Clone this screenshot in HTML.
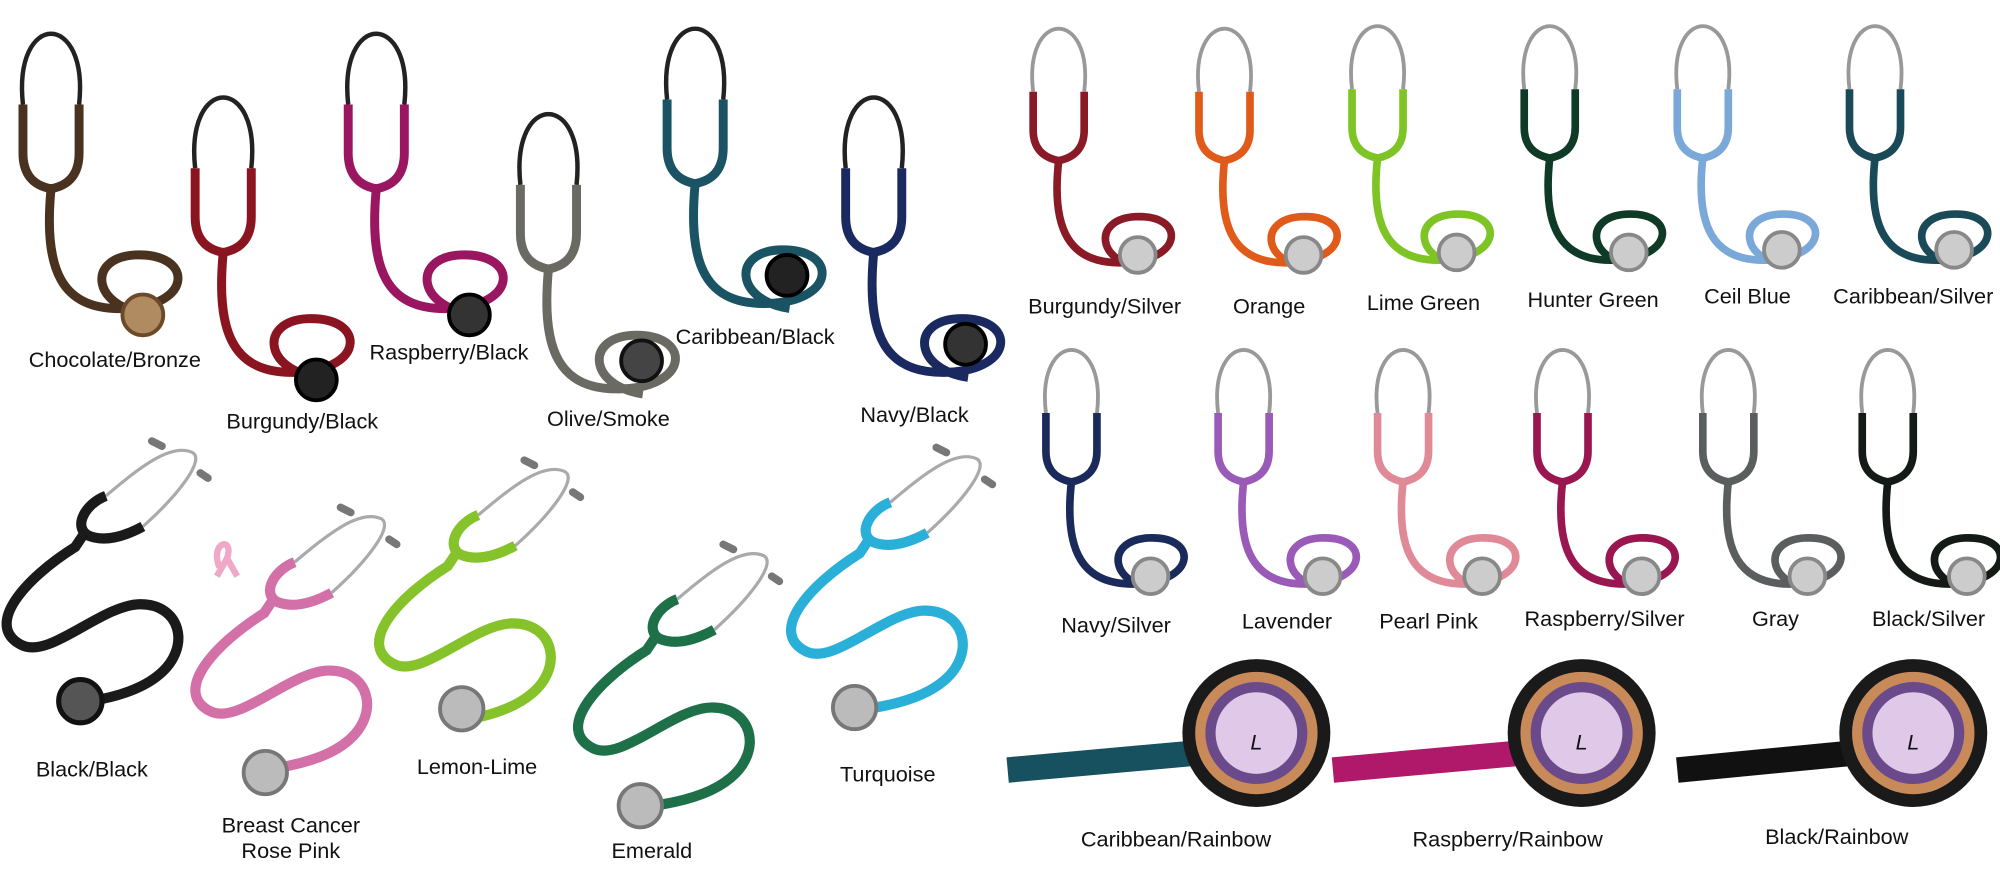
<!DOCTYPE html>
<html><head><meta charset="utf-8"><style>
html,body{margin:0;padding:0;background:#fff;}
svg{display:block;}
text{font-family:"Liberation Sans",Arial,sans-serif;font-size:17px;fill:#111;text-anchor:middle;}
</style></head><body>
<svg width="2000" height="872" viewBox="0 0 1568 684" preserveAspectRatio="none" xmlns="http://www.w3.org/2000/svg">
<defs>
 <g id="up">
  <path d="M-20 62 C-28 -4 28 -4 20 62" fill="none" stroke="#999" stroke-width="3"/>
  <path d="M-20 62 L-20 92 Q-20 112 0 116 Q20 112 20 92 L20 62" fill="none" stroke="currentColor" stroke-width="6"/>
  <path d="M0 116 C-6 170 8 198 52 196 C98 194 100 158 60 160 C26 162 30 196 66 200" fill="none" stroke="currentColor" stroke-width="6"/>
 </g>
 <g id="upL">
  <path d="M-22 70 C-30 -4 30 -4 22 70" fill="none" stroke="#222" stroke-width="3.5"/>
  <path d="M-22 70 L-22 108 Q-22 132 0 136 Q22 132 22 108 L22 70" fill="none" stroke="currentColor" stroke-width="7"/>
  <path d="M0 136 C-6 200 8 232 58 230 C112 228 112 186 66 188 C28 190 32 228 74 234" fill="none" stroke="currentColor" stroke-width="7"/>
 </g>
 <!-- lying stethoscope, origin at Y junction -->
 <g id="ly">
  <path d="M24 -40 C50 -62 75 -82 92 -74 C102 -68 80 -40 53 -16" fill="none" stroke="#aaa" stroke-width="2.5"/>
  <path d="M68 -79 l-8 -4 M98 -58 l6 4" stroke="#777" stroke-width="6" stroke-linecap="round"/>
  <path d="M24 -40 C8 -34 -2 -16 10 -9 C24 -3 40 -9 53 -16" fill="none" stroke="currentColor" stroke-width="8"/>
  <path d="M6 -9 L0 0 C-40 25 -72 62 -42 77 C-20 88 20 46 50 45 C82 44 92 78 66 100 C52 112 30 118 12 121" fill="none" stroke="currentColor" stroke-width="8"/>
 </g>
</defs>

<!-- LEFT TOP ROW -->
<g color="#4a3220"><use href="#upL" x="40" y="12"/><circle cx="112" cy="247" r="16" fill="#b08a60" stroke="#6b4a2a" stroke-width="3"/></g>
<g color="#8a1420"><use href="#upL" x="175" y="62"/><circle cx="248" cy="298" r="16" fill="#222" stroke="#000" stroke-width="3"/></g>
<g color="#9a1660"><use href="#upL" x="295" y="12"/><circle cx="368" cy="247" r="16" fill="#333" stroke="#000" stroke-width="3"/></g>
<g color="#6a6a62"><use href="#upL" x="430" y="75"/><circle cx="503" cy="283" r="16" fill="#444" stroke="#111" stroke-width="3"/></g>
<g color="#1a5464"><use href="#upL" x="545" y="8"/><circle cx="617" cy="216" r="16" fill="#222" stroke="#000" stroke-width="3"/></g>
<g color="#1a2a60"><use href="#upL" x="685" y="62"/><circle cx="757" cy="270" r="16" fill="#333" stroke="#000" stroke-width="3"/></g>
<text x="90" y="288">Chocolate/Bronze</text>
<text x="237" y="336">Burgundy/Black</text>
<text x="352" y="282">Raspberry/Black</text>
<text x="477" y="334">Olive/Smoke</text>
<text x="592" y="270">Caribbean/Black</text>
<text x="717" y="331">Navy/Black</text>

<!-- LEFT BOTTOM -->
<g color="#1a1a1a"><use href="#ly" x="59" y="429"/><circle cx="63" cy="550" r="17" fill="#555" stroke="#111" stroke-width="4"/></g>
<g color="#d470a8"><use href="#ly" x="207" y="481"/><circle cx="208" cy="606" r="17" fill="#bbb" stroke="#777" stroke-width="3"/></g>
<g color="#86c22a"><use href="#ly" x="351" y="444"/><circle cx="362" cy="556" r="17" fill="#bbb" stroke="#777" stroke-width="3"/></g>
<g color="#1e7048"><use href="#ly" x="507" y="510"/><circle cx="502" cy="632" r="17" fill="#bbb" stroke="#777" stroke-width="3"/></g>
<g color="#2ab0d8"><use href="#ly" x="674" y="434"/><circle cx="670" cy="555" r="17" fill="#bbb" stroke="#777" stroke-width="3"/></g>
<path d="M172 445 C164 425 184 420 178 438 L170 452 M178 438 L186 452" fill="none" stroke="#f0a8c8" stroke-width="5"/>
<text x="72" y="609" font-size="19">Black/Black</text>
<text x="228" y="653" font-size="16">Breast Cancer</text>
<text x="228" y="673" font-size="16">Rose Pink</text>
<text x="374" y="607" font-size="16">Lemon-Lime</text>
<text x="511" y="673" font-size="16">Emerald</text>
<text x="696" y="613" font-size="16">Turquoise</text>

<!-- RIGHT TOP ROW -->
<g color="#8a1a26"><use href="#up" x="830" y="10"/><circle cx="892" cy="200" r="14" fill="#ccc" stroke="#888" stroke-width="3"/></g>
<g color="#e05a1a"><use href="#up" x="960" y="10"/><circle cx="1022" cy="200" r="14" fill="#ccc" stroke="#888" stroke-width="3"/></g>
<g color="#7ec424"><use href="#up" x="1080" y="8"/><circle cx="1142" cy="198" r="14" fill="#ccc" stroke="#888" stroke-width="3"/></g>
<g color="#0e3a26"><use href="#up" x="1215" y="8"/><circle cx="1277" cy="198" r="14" fill="#ccc" stroke="#888" stroke-width="3"/></g>
<g color="#7aa8d8"><use href="#up" x="1335" y="8"/><circle cx="1397" cy="196" r="14" fill="#ccc" stroke="#888" stroke-width="3"/></g>
<g color="#1a4a58"><use href="#up" x="1470" y="8"/><circle cx="1532" cy="196" r="14" fill="#ccc" stroke="#888" stroke-width="3"/></g>
<text x="866" y="246">Burgundy/Silver</text>
<text x="995" y="246">Orange</text>
<text x="1116" y="243">Lime Green</text>
<text x="1249" y="241">Hunter Green</text>
<text x="1370" y="238">Ceil Blue</text>
<text x="1500" y="238">Caribbean/Silver</text>

<!-- RIGHT MIDDLE ROW -->
<g color="#1a2a5a"><use href="#up" x="840" y="262"/><circle cx="902" cy="452" r="14" fill="#ccc" stroke="#888" stroke-width="3"/></g>
<g color="#9a5ab8"><use href="#up" x="975" y="262"/><circle cx="1037" cy="452" r="14" fill="#ccc" stroke="#888" stroke-width="3"/></g>
<g color="#e08a98"><use href="#up" x="1100" y="262"/><circle cx="1162" cy="452" r="14" fill="#ccc" stroke="#888" stroke-width="3"/></g>
<g color="#9a1650"><use href="#up" x="1225" y="262"/><circle cx="1287" cy="452" r="14" fill="#ccc" stroke="#888" stroke-width="3"/></g>
<g color="#5a5e5e"><use href="#up" x="1355" y="262"/><circle cx="1417" cy="452" r="14" fill="#ccc" stroke="#888" stroke-width="3"/></g>
<g color="#141a16"><use href="#up" x="1480" y="262"/><circle cx="1542" cy="452" r="14" fill="#ccc" stroke="#888" stroke-width="3"/></g>
<text x="875" y="496">Navy/Silver</text>
<text x="1009" y="493">Lavender</text>
<text x="1120" y="493">Pearl Pink</text>
<text x="1258" y="491">Raspberry/Silver</text>
<text x="1392" y="491">Gray</text>
<text x="1512" y="491">Black/Silver</text>

<!-- RAINBOW -->
<g>
 <path d="M790 604 L945 590" stroke="#17505e" stroke-width="20"/>
 <circle cx="985" cy="575" r="58" fill="#1a1a1a"/><circle cx="985" cy="575" r="48" fill="#c98a5a"/><circle cx="985" cy="575" r="40" fill="#6a4a8a"/><circle cx="985" cy="575" r="32" fill="#e0c8e8"/>
 <text x="985" y="588" font-size="36" fill="#c9a040" font-style="italic">L</text>
</g>
<g>
 <path d="M1045 604 L1200 590" stroke="#b0186a" stroke-width="20"/>
 <circle cx="1240" cy="575" r="58" fill="#1a1a1a"/><circle cx="1240" cy="575" r="48" fill="#c98a5a"/><circle cx="1240" cy="575" r="40" fill="#6a4a8a"/><circle cx="1240" cy="575" r="32" fill="#e0c8e8"/>
 <text x="1240" y="588" font-size="36" fill="#c9a040" font-style="italic">L</text>
</g>
<g>
 <path d="M1315 604 L1460 590" stroke="#111" stroke-width="20"/>
 <circle cx="1500" cy="575" r="58" fill="#1a1a1a"/><circle cx="1500" cy="575" r="48" fill="#c98a5a"/><circle cx="1500" cy="575" r="40" fill="#6a4a8a"/><circle cx="1500" cy="575" r="32" fill="#e0c8e8"/>
 <text x="1500" y="588" font-size="36" fill="#c9a040" font-style="italic">L</text>
</g>
<text x="922" y="664">Caribbean/Rainbow</text>
<text x="1182" y="664">Raspberry/Rainbow</text>
<text x="1440" y="662">Black/Rainbow</text>
</svg>
</body></html>
